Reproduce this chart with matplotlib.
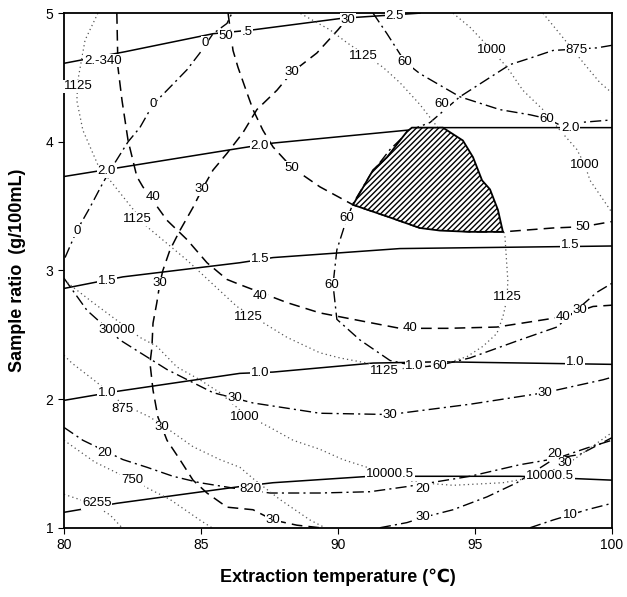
import matplotlib
matplotlib.use("Agg")
import matplotlib.pyplot as plt

plt.rcParams['font.family'] = ['Liberation Sans', 'DejaVu Sans']

# solid contours (0.5 ... 2.5)
s25_x = [80.00, 82.23, 85.44, 86.90, 90.15, 92.99]
s25_y = [4.61, 4.70, 4.84, 4.87, 4.96, 5.00]
s20_x = [80.00, 82.04, 86.42, 87.63, 92.52, 93.72, 100.0]
s20_y = [3.73, 3.80, 3.95, 3.99, 4.09, 4.11, 4.11]
s15_x = [80.00, 82.15, 86.42, 87.63, 92.26, 100.0]
s15_y = [2.86, 2.95, 3.06, 3.10, 3.17, 3.19]
s10_x = [80.00, 81.93, 86.42, 87.63, 91.28, 93.72, 100.0]
s10_y = [1.99, 2.06, 2.20, 2.21, 2.28, 2.29, 2.27]
s05_x = [80.00, 81.93, 86.42, 87.63, 91.17, 96.64, 100.0]
s05_y = [1.12, 1.19, 1.32, 1.35, 1.40, 1.40, 1.37]

# dashed contours
d40_x = [81.93, 81.97, 82.12, 82.34, 82.66, 82.88, 83.76, 84.49, 85.22, 85.95, 86.42,
         88.14, 89.34, 91.28, 92.26, 93.98, 95.80, 97.01, 98.21, 99.31, 100.0]
d40_y = [5.00, 4.58, 4.32, 4.01, 3.73, 3.65, 3.39, 3.24, 3.06, 2.93, 2.89,
         2.75, 2.67, 2.59, 2.55, 2.55, 2.56, 2.60, 2.64, 2.72, 2.73]
d50_x = [85.99, 86.17, 86.35, 86.68, 86.90, 87.26, 87.63, 88.32, 89.34, 90.55, 91.79,
         92.99, 94.82, 96.02, 97.85, 98.94, 100.0]
d50_y = [5.00, 4.71, 4.58, 4.38, 4.25, 4.09, 3.96, 3.80, 3.65, 3.51, 3.42,
         3.33, 3.30, 3.30, 3.33, 3.34, 3.38]
d30_x = [90.51, 90.00, 89.23, 88.32, 87.77, 87.04, 86.53, 85.95, 85.44, 85.04, 84.71,
         84.23, 83.87, 83.61, 83.50, 83.39, 83.25, 83.21, 83.14, 83.25, 83.43, 83.58,
         83.76, 84.23, 84.71, 85.22, 85.95, 86.90, 87.63, 88.50, 89.34]
d30_y = [5.00, 4.87, 4.69, 4.54, 4.40, 4.25, 4.07, 3.91, 3.78, 3.63, 3.49,
         3.31, 3.16, 3.00, 2.90, 2.75, 2.59, 2.40, 2.28, 2.07, 1.86, 1.78,
         1.68, 1.53, 1.37, 1.27, 1.16, 1.14, 1.06, 1.02, 1.00]

# dash-dot contours
dd0_x = [80.04, 80.47, 80.95, 81.42, 81.75, 82.34, 82.77, 83.25, 83.76, 84.49, 84.96,
         85.44, 85.95, 86.13]
dd0_y = [3.10, 3.31, 3.49, 3.68, 3.80, 4.00, 4.11, 4.29, 4.40, 4.56, 4.69,
         4.84, 4.92, 5.00]
dd60a_x = [91.28, 91.79, 92.45, 92.99, 94.45, 95.91, 97.01, 97.63, 98.10, 98.83, 100.0]
dd60a_y = [5.00, 4.84, 4.62, 4.53, 4.35, 4.25, 4.21, 4.18, 4.13, 4.15, 4.17]
dd60b_x = [100.0, 99.45, 97.85, 97.01, 96.28, 94.45, 93.36, 92.63, 91.90, 91.17, 90.55,
           90.26, 89.96, 89.82, 89.96, 90.80, 91.90, 92.99, 93.65, 94.82, 96.64, 97.99,
           99.45, 100.0]
dd60b_y = [4.75, 4.73, 4.71, 4.65, 4.60, 4.35, 4.15, 4.09, 3.94, 3.74, 3.52,
           3.36, 3.16, 2.89, 2.62, 2.46, 2.30, 2.25, 2.26, 2.32, 2.46, 2.56,
           2.83, 2.90]
dd30m_x = [80.00, 80.84, 82.04, 83.76, 85.44, 86.90, 89.34, 91.90, 94.82, 97.55, 99.67, 100.0]
dd30m_y = [2.94, 2.69, 2.46, 2.23, 2.05, 1.97, 1.89, 1.88, 1.96, 2.05, 2.15, 2.17]
dd20_x = [80.00, 80.69, 82.15, 83.03, 83.98, 84.96, 86.42, 87.52, 89.34, 91.17, 92.52,
          94.82, 96.64, 98.83, 100.0]
dd20_y = [1.78, 1.68, 1.53, 1.47, 1.40, 1.35, 1.30, 1.27, 1.27, 1.28, 1.32,
          1.40, 1.49, 1.57, 1.70]
dd30b_x = [91.53, 92.52, 93.10, 94.20, 95.44, 96.53, 97.85, 99.09, 100.0]
dd30b_y = [1.00, 1.04, 1.08, 1.14, 1.24, 1.35, 1.53, 1.62, 1.68]
dd10_x = [97.01, 97.85, 99.09, 100.0]
dd10_y = [1.00, 1.06, 1.14, 1.19]

# dotted contours (625 ... 1125)
p1125_x = [81.24, 80.77, 80.51, 80.47, 80.69, 81.24, 81.57, 83.03, 84.49, 86.31, 88.14,
           89.34, 90.07, 91.06, 92.01, 92.99, 93.98, 94.71, 95.29, 95.80, 96.02, 96.17,
           96.20, 96.09, 95.55, 94.93, 94.27, 93.72, 92.99, 92.26, 91.64, 90.33, 89.71, 88.61]
p1125_y = [5.00, 4.79, 4.48, 4.32, 4.09, 3.82, 3.73, 3.34, 3.08, 2.72, 2.48,
           2.36, 2.32, 2.28, 2.23, 2.25, 2.28, 2.33, 2.41, 2.51, 2.64, 2.78,
           2.92, 3.28, 3.55, 3.82, 4.01, 4.09, 4.29, 4.46, 4.58, 4.77, 4.87, 5.00]
p1000r_x = [94.20, 94.82, 95.62, 96.17, 96.75, 97.48, 98.10, 98.72, 99.01, 99.20, 100.0]
p1000r_y = [5.00, 4.89, 4.71, 4.58, 4.40, 4.25, 4.09, 3.94, 3.82, 3.70, 3.45]
p875r_x = [97.48, 98.21, 99.09, 99.56, 100.0]
p875r_y = [5.00, 4.81, 4.58, 4.46, 4.38]
p1000l_x = [80.00, 80.33, 81.06, 82.77, 83.39, 84.12, 84.96, 85.69, 86.61, 87.52, 88.36,
            89.34, 90.18, 91.06, 91.79, 92.99, 94.20, 96.02, 97.37, 98.47, 100.0]
p1000l_y = [2.93, 2.87, 2.75, 2.48, 2.41, 2.25, 2.15, 2.05, 1.88, 1.78, 1.68,
            1.61, 1.53, 1.47, 1.40, 1.35, 1.33, 1.35, 1.40, 1.51, 1.74]
p875l_x = [80.00, 80.29, 81.20, 82.15, 83.14, 83.98, 84.71, 85.69, 86.42, 86.97, 87.88,
           88.98, 89.53]
p875l_y = [2.34, 2.28, 2.13, 1.96, 1.86, 1.74, 1.63, 1.53, 1.47, 1.37, 1.22,
           1.06, 1.00]
p750_x = [80.00, 81.13, 82.48, 83.87, 84.96, 85.40]
p750_y = [1.68, 1.51, 1.37, 1.22, 1.06, 1.00]
p625_x = [80.00, 80.99, 81.68, 82.12]
p625_y = [1.26, 1.19, 1.10, 1.00]

# optimum (hatched) region outline
opt_x = [90.55, 91.28, 91.79, 92.52, 92.70, 93.83, 94.56, 94.93, 95.26, 95.55, 95.84,
         96.02, 94.82, 93.72, 92.99, 91.79]
opt_y = [3.51, 3.78, 3.88, 4.08, 4.11, 4.11, 4.01, 3.88, 3.70, 3.63, 3.47,
         3.30, 3.30, 3.31, 3.33, 3.42]

# contour labels as they appear: (text, temperature, ratio)
labels = [
    ("1125", 80.51, 4.43), ("2.-340", 81.42, 4.63), ("0", 83.25, 4.29), ("0", 85.15, 4.77),
    ("50", 85.91, 4.82), (".5", 86.68, 4.85), ("30", 90.36, 4.95), ("2.5", 92.08, 4.98),
    ("1125", 90.91, 4.67), ("60", 92.45, 4.62), ("1000", 95.62, 4.71), ("875", 98.72, 4.71),
    ("30", 88.32, 4.54), ("2.0", 81.57, 3.77), ("2.0", 87.15, 3.97), ("60", 93.80, 4.29),
    ("25", 94.70, 3.83), ("60", 97.63, 4.18), ("2.0", 98.47, 4.11), ("1000", 99.01, 3.82),
    ("50", 88.32, 3.80), ("40", 83.25, 3.57), ("30", 85.04, 3.63), ("1125", 82.66, 3.40),
    ("0", 80.47, 3.31), ("1.5", 81.57, 2.92), ("30", 83.50, 2.90), ("60", 90.33, 3.41),
    ("1.5", 87.15, 3.09), ("60", 89.78, 2.89), ("50", 98.94, 3.34), ("1.5", 98.47, 3.20),
    ("1125", 96.17, 2.79), ("40", 87.15, 2.80), ("1125", 86.72, 2.64), ("40", 92.63, 2.55),
    ("40", 98.21, 2.64), ("30", 98.83, 2.69), ("30000", 81.93, 2.54), ("1.0", 81.57, 2.05),
    ("875", 82.15, 1.92), ("30", 83.58, 1.78), ("30", 86.24, 2.01), ("1000", 86.61, 1.86),
    ("1.0", 87.15, 2.20), ("1125", 91.70, 2.22), ("1.0", 92.80, 2.26), ("60", 93.70, 2.26),
    ("1.0", 98.65, 2.29), ("30", 91.90, 1.88), ("30", 97.55, 2.05), ("20", 81.50, 1.58),
    ("750", 82.48, 1.37), ("6255", 81.20, 1.19), ("820", 86.80, 1.30), ("30", 87.63, 1.06),
    ("10000.5", 91.90, 1.415), ("20", 93.10, 1.30), ("30", 93.10, 1.08), ("20", 97.92, 1.57),
    ("30", 98.28, 1.50), ("10000.5", 97.74, 1.40), ("10", 98.47, 1.10),
]

fig = plt.figure(figsize=(6.27, 5.97), dpi=100)
ax = fig.add_axes([0.102, 0.116, 0.874, 0.862])

solid = dict(color='black', lw=1.1, ls='-')
dashed = dict(color='black', lw=1.1, ls=(0, (7, 4)))
dashdot = dict(color='black', lw=1.0, ls=(0, (8, 3, 1.5, 3)))
dotted = dict(color='#555555', lw=0.9, ls=(0, (1, 2.5)))

for xs, ys in [(s25_x, s25_y), (s20_x, s20_y), (s15_x, s15_y), (s10_x, s10_y), (s05_x, s05_y)]:
    ax.plot(xs, ys, **solid)
for xs, ys in [(d40_x, d40_y), (d50_x, d50_y), (d30_x, d30_y)]:
    ax.plot(xs, ys, **dashed)
for xs, ys in [(dd0_x, dd0_y), (dd60a_x, dd60a_y), (dd60b_x, dd60b_y), (dd30m_x, dd30m_y),
               (dd20_x, dd20_y), (dd30b_x, dd30b_y), (dd10_x, dd10_y)]:
    ax.plot(xs, ys, **dashdot)
for xs, ys in [(p1125_x, p1125_y), (p1000r_x, p1000r_y), (p875r_x, p875r_y),
               (p1000l_x, p1000l_y), (p875l_x, p875l_y), (p750_x, p750_y), (p625_x, p625_y)]:
    ax.plot(xs, ys, **dotted)

for txt, x, y in labels:
    ax.text(x, y, txt, fontsize=9.5, ha='center', va='center', zorder=4,
            bbox=dict(boxstyle='square,pad=0.05', fc='white', ec='none'))

ax.fill(opt_x, opt_y, facecolor='white', edgecolor='black', hatch='//////', lw=1.3, zorder=5)

ax.set_xlim(80, 100)
ax.set_ylim(1, 5)
ax.set_xticks([80, 85, 90, 95, 100])
ax.set_yticks([1, 2, 3, 4, 5])
ax.tick_params(direction='out', length=4, labelsize=10)
for sp in ax.spines.values():
    sp.set_linewidth(1.3)

ax.set_xlabel("Extraction temperature (\u2103)", fontsize=13, fontweight='bold', labelpad=12)
ax.set_ylabel("Sample ratio  (g/100mL)", fontsize=13, fontweight='bold', labelpad=14)

fig.savefig("out.png", dpi=100)
